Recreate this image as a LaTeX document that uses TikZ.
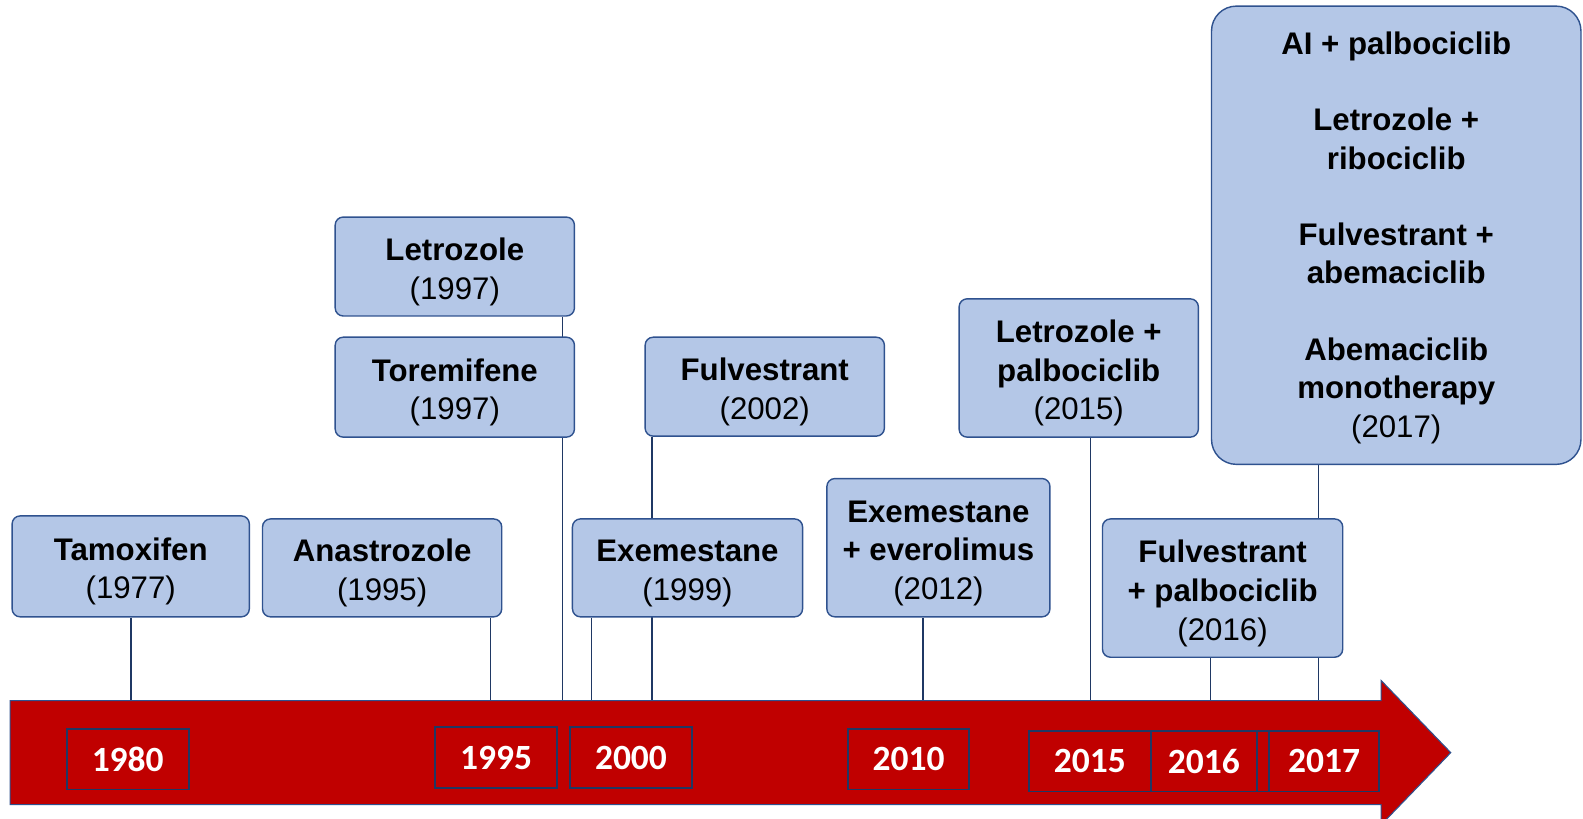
\documentclass[tikz,border=0pt]{standalone}
\usepackage{fontspec}
\setmainfont{Liberation Sans}
\newfontfamily\yearfont{Carlito}
\usetikzlibrary{backgrounds}
\definecolor{arrowred}{HTML}{C00000}
\definecolor{boxblue}{HTML}{B4C7E7}
\definecolor{boxline}{HTML}{2F528F}
\definecolor{navyline}{HTML}{1F3864}
\newcommand\lift[1][18.6pt]{\rule{0pt}{#1}}
\tikzset{
  drug/.style={draw=boxline, fill=boxblue, line width=0.8pt, rounded corners=4.5pt,
    inner sep=0pt, align=center, minimum width=4.74cm, minimum height=1.96cm,
    font=\fontsize{17.6}{21.8}\selectfont},
  yearbox/.style={draw=navyline, line width=1.1pt, fill=arrowred, inner sep=0pt,
    minimum width=2.42cm, minimum height=1.2cm, text=white,
    font=\yearfont\bfseries\fontsize{20}{24}\selectfont},
  stem/.style={draw=navyline, line width=0.9pt}
}

\begin{document}
\begin{tikzpicture}[x=0.02cm, y=-0.02cm]
    \useasboundingbox (0,0) rectangle (1568,811);
    %%Timeline arrow
    \draw[fill=arrowred, draw=boxline, line width=0.6pt] (10,694) -- (1368,694) -- (1368,674)
      -- (1437,745.5) -- (1368,817) -- (1368,797) -- (10,797) -- cycle;
    %%Years
    \node[yearbox] (y1980) at (126.5,752) {1980};
    \node[yearbox] (y1995) at (491.5,750.5) {1995};
    \node[yearbox, minimum width=2.4cm] (y2000) at (625,750.5) {2000};
    \node[yearbox, minimum width=2.4cm] (y2010) at (900,752) {2010};
    \node[yearbox] (y2015) at (1079.5,754) {2015};
    \node[yearbox, minimum width=2.1cm] (y2016) at (1192.5,754) {2016};
    \node[yearbox, minimum width=0.24cm] (ygap) at (1251,754) {};
    \node[yearbox, minimum width=2.18cm] (y2017) at (1311.5,754) {2017};
    %%Drugs
    \node[drug, minimum width=4.70cm, minimum height=2cm] (tam) at (129.5,561) {\lift\textbf{Tamoxifen}\\(1977)};
    \node[drug, minimum height=1.94cm] (ana) at (378.5,562.5) {\lift\textbf{Anastrozole}\\(1995)};
    \node[drug] (let) at (450.5,264) {\lift\textbf{Letrozole}\\(1997)};
    \node[drug, minimum height=1.98cm] (tor) at (450.5,383.5) {\lift\textbf{Toremifene}\\(1997)};
    \node[drug] (ful) at (757.5,383) {\lift\textbf{Fulvestrant}\\(2002)};
    \node[drug, minimum width=4.56cm, minimum height=1.94cm] (exe) at (681,562.5) {\lift\textbf{Exemestane}\\(1999)};
    \node[drug, minimum width=4.42cm, minimum height=2.74cm] (eve) at (929.5,542.5)
      {\lift\textbf{Exemestane}\\\textbf{+ everolimus}\\(2012)};
    \node[drug, minimum height=2.74cm] (lp) at (1068.5,364.5)
      {\lift\textbf{Letrozole +}\\\textbf{palbociclib}\\(2015)};
    \node[drug, minimum width=4.76cm, minimum height=2.74cm] (fp) at (1211,582.5)
      {\lift\textbf{Fulvestrant}\\\textbf{+ palbociclib}\\(2016)};
    \node[drug, minimum width=7.32cm, minimum height=9.08cm, rounded corners=14pt] (cdk) at (1383,233)
      {\lift[15.6pt]\textbf{AI + palbociclib}\\[21.2pt]\textbf{Letrozole +}\\\textbf{ribociclib}\\[21.2pt]%
       \textbf{Fulvestrant +}\\\textbf{abemaciclib}\\[21.2pt]\textbf{Abemaciclib}\\\textbf{monotherapy}\\(2017)};
    %%Points on the arrow
    \coordinate (a1977) at (130,694);
    \coordinate (a1995) at (486,694);
    \coordinate (a1997) at (557,694);
    \coordinate (a1999) at (586,694);
    \coordinate (a2002) at (646,694);
    \coordinate (a2012) at (914,694);
    \coordinate (a2015) at (1080,694);
    \coordinate (a2016) at (1199,694);
    \coordinate (a2017) at (1306,694);
    %%Stems
    \begin{scope}[on background layer]
    \draw[stem] (a1977 |- tam.south) -- (a1977);
    \draw[stem] (a1995 |- ana.south) -- (a1995);
    \draw[stem] (a1997 |- let.south) -- (a1997);
    \draw[stem] (a1999 |- exe.south) -- (a1999);
    \draw[stem] (a2002 |- ful.south) -- (a2002);
    \draw[stem] (a2012 |- eve.south) -- (a2012);
    \draw[stem] (a2015 |- lp.south) -- (a2015);
    \draw[stem] (a2016 |- fp.south) -- (a2016);
    \draw[stem] (a2017 |- cdk.south) -- (a2017);
    \end{scope}
\end{tikzpicture}
\end{document}
